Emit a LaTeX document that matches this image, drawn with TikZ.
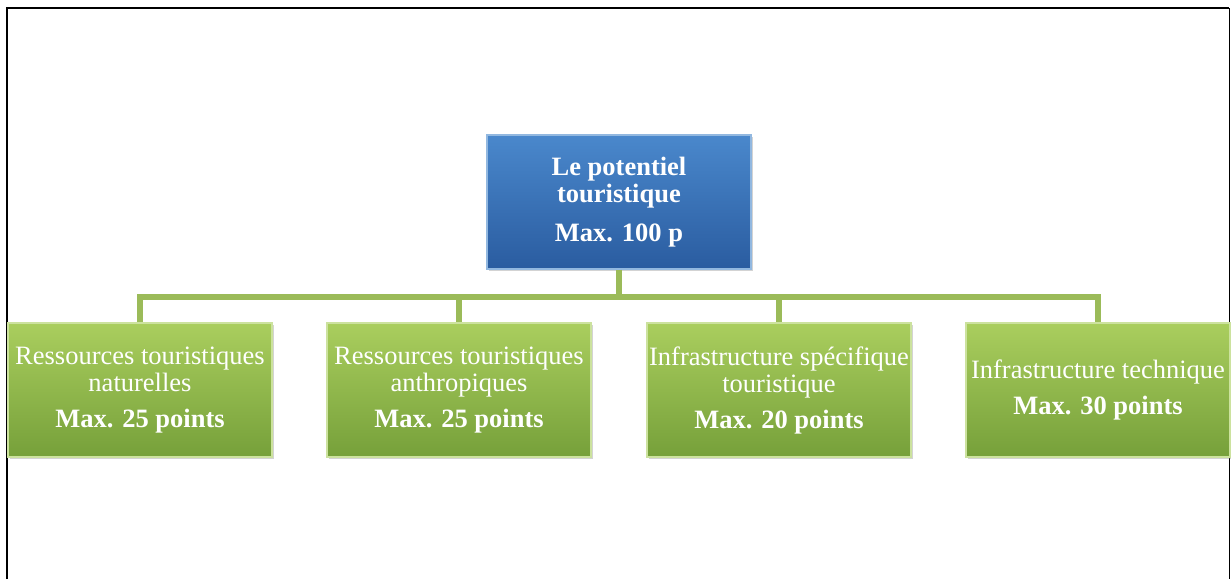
\documentclass[tikz,border=0pt]{standalone}
\usepackage{fontspec}
\setmainfont{Liberation Serif}
\usetikzlibrary{positioning,shadows}
\definecolor{blueTop}{RGB}{74,136,204}
\definecolor{blueBot}{RGB}{42,92,160}
\definecolor{greenTop}{RGB}{170,206,94}
\definecolor{greenBot}{RGB}{118,160,58}
\definecolor{linkgreen}{RGB}{155,187,89}

\begin{document}
\begin{tikzpicture}[x=1pt,y=-1pt,
  box/.style={minimum width=264pt, minimum height=134pt, inner sep=0pt, align=center, text=white,
    font=\fontsize{26.5}{27}\selectfont, line width=1.2pt,
    drop shadow={opacity=0.35, shadow xshift=2pt, shadow yshift=-2pt}},
  bluebox/.style={box, top color=blueTop, bottom color=blueBot, draw=blueTop!60!white},
  greenbox/.style={box, top color=greenTop, bottom color=greenBot, draw=greenTop!60!white},
  link/.style={line width=6pt, draw=linkgreen}]
\useasboundingbox (0,0) rectangle (1231,579);
% frame
\draw[line width=2pt] (7,579) -- (7,8) -- (1229,8);
\draw[line width=1pt] (1229,8) -- (1229,579);

% top box
\node[bluebox] (top) at (619,202) {\textbf{Le potentiel}\\\textbf{touristique}\\[12pt]\textbf{Max. 100 p}};

% second level left to right
\node[greenbox] (nat) at (140,390) {Ressources touristiques\\naturelles\\[9pt]\textbf{Max. 25 points}};
\node[greenbox] (anth) at (459,390) {Ressources touristiques\\anthropiques\\[9pt]\textbf{Max. 25 points}};
\node[greenbox] (spec) at (779,390) {Infrastructure spécifique\\touristique\\[9pt]\textbf{Max. 20 points}};
\node[greenbox] (tech) at (1098,390) {Infrastructure technique\\[9pt]\textbf{Max. 30 points}};

% connectors
\coordinate (hub) at (619,297);
\draw[link] (top.south) -- (hub);
\draw[link] (hub) -| (nat.north);
\draw[link] (hub) -| (anth.north);
\draw[link] (hub) -| (spec.north);
\draw[link] (hub) -| (tech.north);
\end{tikzpicture}
\end{document}
